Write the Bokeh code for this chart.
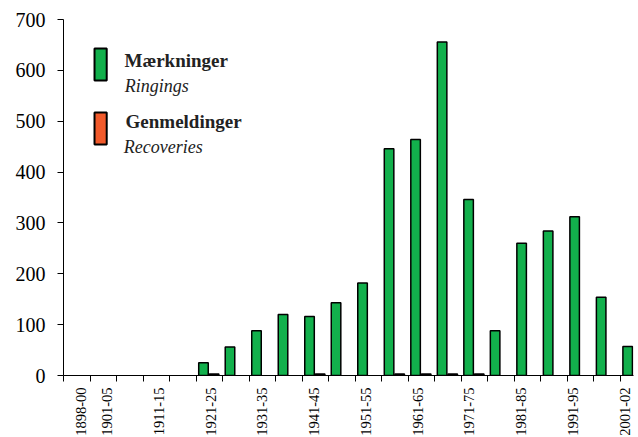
from math import pi
import pandas as pd
from bokeh.plotting import figure
from bokeh.models import ColumnDataSource, FixedTicker, Range1d, BoxAnnotation, Label
from bokeh.embed import file_html
from bokeh.resources import INLINE

# ---- data ----
periods = ["1898-00", "1901-05", "1906-10", "1911-15", "1916-20", "1921-25", "1926-30",
           "1931-35", "1936-40", "1941-45", "1946-50", "1951-55", "1956-60", "1961-65",
           "1966-70", "1971-75", "1976-80", "1981-85", "1986-90", "1991-95", "1996-00",
           "2001-02"]
ringings = [0, 0, 0, 0, 0, 25, 56, 88, 120, 116, 143, 182, 446, 464, 656, 346, 88, 260,
            284, 312, 154, 57]
recoveries = [0, 0, 0, 0, 0, 3, 0, 0, 0, 3, 0, 0, 3, 3, 3, 3, 0, 0, 0, 0, 0, 0]
shown_labels = ["1898-00", "1901-05", "1911-15", "1921-25", "1931-35", "1941-45",
                "1951-55", "1961-65", "1971-75", "1981-85", "1991-95", "2001-02"]
y_ticks = [0, 100, 200, 300, 400, 500, 600, 700]

GREEN = "#12b04c"
RED = "#f15a2b"
FONT = "Liberation Serif"

df = pd.DataFrame({"period": periods, "ringings": ringings, "recoveries": recoveries})
df["idx"] = range(len(df))
df["xg"] = df["idx"] + 0.28
df["xr"] = df["idx"] + 0.68

src_g = ColumnDataSource(df[df["ringings"] > 0])
src_r = ColumnDataSource(df[df["recoveries"] > 0])

p = figure(frame_width=570, frame_height=356, output_backend="svg", toolbar_location=None,
           x_range=Range1d(0, 21.5), y_range=Range1d(0, 700),
           min_border_left=63, min_border_top=19, min_border_bottom=62, min_border_right=4)
p.background_fill_color = "white"
p.border_fill_color = "white"
p.outline_line_color = None
p.grid.visible = False

p.vbar(x="xg", top="ringings", bottom=0, width=0.36, source=src_g,
       fill_color=GREEN, line_color="black", line_width=1.5)
p.vbar(x="xr", top="recoveries", bottom=0, width=0.36, source=src_r,
       fill_color=RED, line_color="black", line_width=1.5)

# x axis: labels at (slightly compressed) positions, minor ticks at category borders
label_pos = {}
for lab in shown_labels:
    i = periods.index(lab)
    label_pos[round(0.667 + 0.976 * i, 3)] = lab
xa = p.xaxis[0]
xa.ticker = FixedTicker(ticks=list(label_pos.keys()), minor_ticks=list(range(len(periods))))
xa.major_label_overrides = label_pos
xa.major_label_orientation = pi / 2
xa.major_tick_out = 0
xa.major_tick_in = 0
xa.minor_tick_out = 6
xa.minor_tick_in = 0
xa.major_label_standoff = 6
xa.major_label_text_font = FONT
xa.major_label_text_font_size = "14.5px"
xa.major_label_text_color = "black"
xa.axis_line_color = "black"
xa.minor_tick_line_color = "black"

ya = p.yaxis[0]
ya.ticker = FixedTicker(ticks=y_ticks)
ya.major_tick_out = 6
ya.major_tick_in = 0
ya.minor_tick_out = 0
ya.minor_tick_in = 0
ya.major_label_standoff = 12
ya.major_label_text_font = FONT
ya.major_label_text_font_size = "20px"
ya.major_label_text_color = "black"
ya.axis_line_color = "black"

# ---- legend ----
p.add_layout(BoxAnnotation(left=1.17, right=1.63, bottom=580, top=643,
                           fill_color=GREEN, fill_alpha=1, line_color="black",
                           line_alpha=1, line_width=2))
p.add_layout(BoxAnnotation(left=1.17, right=1.63, bottom=454, top=517,
                           fill_color=RED, fill_alpha=1, line_color="black",
                           line_alpha=1, line_width=2))
legend_texts = [
    (2.30, 620, "Mærkninger", "bold", "19px"),
    (2.31, 570, "Ringings", "italic", "18px"),
    (2.34, 500, "Genmeldinger", "bold", "19px"),
    (2.27, 450, "Recoveries", "italic", "18px"),
]
for x, y, t, style, size in legend_texts:
    p.add_layout(Label(x=x, y=y, text=t, text_font=FONT, text_font_style=style,
                       text_font_size=size, text_color="#222222", text_baseline="alphabetic",
                       text_align="left"))

open("out.html", "w").write(file_html(p, INLINE))
